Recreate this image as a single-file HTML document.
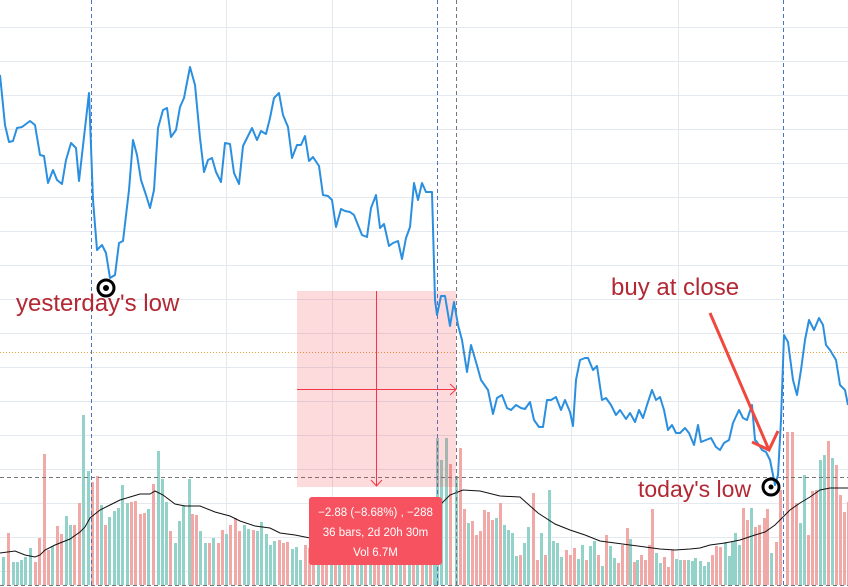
<!DOCTYPE html>
<html><head><meta charset="utf-8"><style>
html,body{margin:0;padding:0;background:#fff;}
svg{display:block;}
text{font-family:"Liberation Sans","DejaVu Sans",sans-serif;}
.t{fill:#93d2c9}.r{fill:#f0a9a6}
</style></head><body>
<svg width="848" height="587" viewBox="0 0 848 587" xmlns="http://www.w3.org/2000/svg">
<g stroke="#e3e9ef" stroke-width="1">
<line x1="0" y1="27.5" x2="848" y2="27.5"/><line x1="0" y1="61.5" x2="848" y2="61.5"/><line x1="0" y1="95.5" x2="848" y2="95.5"/><line x1="0" y1="129.5" x2="848" y2="129.5"/><line x1="0" y1="163.5" x2="848" y2="163.5"/><line x1="0" y1="197.5" x2="848" y2="197.5"/><line x1="0" y1="231.5" x2="848" y2="231.5"/><line x1="0" y1="265.5" x2="848" y2="265.5"/><line x1="0" y1="299.5" x2="848" y2="299.5"/><line x1="0" y1="333.5" x2="848" y2="333.5"/><line x1="0" y1="367.5" x2="848" y2="367.5"/><line x1="0" y1="401.5" x2="848" y2="401.5"/><line x1="0" y1="435.5" x2="848" y2="435.5"/><line x1="0" y1="469.5" x2="848" y2="469.5"/><line x1="0" y1="503.5" x2="848" y2="503.5"/><line x1="0" y1="537.5" x2="848" y2="537.5"/><line x1="0" y1="571.5" x2="848" y2="571.5"/>
<line x1="226.5" y1="0" x2="226.5" y2="587"/><line x1="332.5" y1="0" x2="332.5" y2="587"/><line x1="571.5" y1="0" x2="571.5" y2="587"/><line x1="678.5" y1="0" x2="678.5" y2="587"/>
</g>
<g>
<rect class="t" x="2" y="557" width="3" height="28"/>
<rect class="r" x="7" y="533" width="3" height="52"/>
<rect class="t" x="12" y="562" width="3" height="23"/>
<rect class="t" x="16" y="562" width="3" height="23"/>
<rect class="t" x="20" y="560" width="3" height="25"/>
<rect class="t" x="24" y="557" width="3" height="28"/>
<rect class="t" x="29" y="548" width="3" height="37"/>
<rect class="r" x="34" y="562" width="3" height="23"/>
<rect class="r" x="38" y="538" width="3" height="47"/>
<rect class="r" x="43" y="454" width="3" height="131"/>
<rect class="r" x="47" y="550" width="3" height="35"/>
<rect class="t" x="51" y="546" width="3" height="39"/>
<rect class="r" x="56" y="526" width="3" height="59"/>
<rect class="r" x="60" y="534" width="3" height="51"/>
<rect class="t" x="65" y="516" width="3" height="69"/>
<rect class="t" x="69" y="525" width="3" height="60"/>
<rect class="r" x="73" y="525" width="3" height="60"/>
<rect class="r" x="78" y="503" width="3" height="82"/>
<rect class="t" x="82" y="415" width="3" height="170"/>
<rect class="t" x="87" y="471" width="3" height="114"/>
<rect class="r" x="91" y="482" width="3" height="103"/>
<rect class="r" x="96" y="476" width="3" height="109"/>
<rect class="t" x="100" y="505" width="3" height="80"/>
<rect class="r" x="104" y="525" width="3" height="60"/>
<rect class="t" x="108" y="517" width="3" height="68"/>
<rect class="t" x="113" y="511" width="3" height="74"/>
<rect class="t" x="117" y="508" width="3" height="77"/>
<rect class="t" x="121" y="485" width="3" height="100"/>
<rect class="t" x="126" y="503" width="3" height="82"/>
<rect class="r" x="130" y="502" width="3" height="83"/>
<rect class="r" x="134" y="501" width="3" height="84"/>
<rect class="r" x="139" y="514" width="3" height="71"/>
<rect class="r" x="143" y="513" width="3" height="72"/>
<rect class="t" x="147" y="509" width="3" height="76"/>
<rect class="r" x="152" y="484" width="3" height="101"/>
<rect class="t" x="157" y="451" width="3" height="134"/>
<rect class="t" x="161" y="479" width="3" height="106"/>
<rect class="t" x="165" y="502" width="3" height="83"/>
<rect class="r" x="169" y="531" width="3" height="54"/>
<rect class="t" x="174" y="543" width="3" height="42"/>
<rect class="t" x="178" y="521" width="3" height="64"/>
<rect class="t" x="182" y="505" width="3" height="80"/>
<rect class="t" x="188" y="479" width="3" height="106"/>
<rect class="r" x="191" y="514" width="3" height="71"/>
<rect class="r" x="195" y="515" width="3" height="70"/>
<rect class="t" x="199" y="531" width="3" height="54"/>
<rect class="t" x="204" y="543" width="3" height="42"/>
<rect class="r" x="208" y="543" width="3" height="42"/>
<rect class="t" x="212" y="538" width="3" height="47"/>
<rect class="r" x="217" y="543" width="3" height="42"/>
<rect class="r" x="221" y="530" width="3" height="55"/>
<rect class="t" x="225" y="534" width="3" height="51"/>
<rect class="r" x="229" y="525" width="3" height="60"/>
<rect class="r" x="234" y="518" width="3" height="67"/>
<rect class="r" x="238" y="531" width="3" height="54"/>
<rect class="t" x="243" y="525" width="3" height="60"/>
<rect class="t" x="247" y="529" width="3" height="56"/>
<rect class="r" x="252" y="530" width="3" height="55"/>
<rect class="t" x="256" y="531" width="3" height="54"/>
<rect class="t" x="260" y="522" width="3" height="63"/>
<rect class="t" x="265" y="534" width="3" height="51"/>
<rect class="t" x="269" y="545" width="3" height="40"/>
<rect class="t" x="273" y="541" width="3" height="44"/>
<rect class="r" x="278" y="540" width="3" height="45"/>
<rect class="r" x="282" y="543" width="3" height="42"/>
<rect class="r" x="286" y="542" width="3" height="43"/>
<rect class="t" x="291" y="549" width="3" height="36"/>
<rect class="t" x="295" y="547" width="3" height="38"/>
<rect class="t" x="299" y="560" width="3" height="25"/>
<rect class="r" x="304" y="545" width="3" height="40"/>
<rect class="r" x="308" y="548" width="3" height="37"/>
<rect class="r" x="312" y="540" width="3" height="45"/>
<rect class="t" x="317" y="545" width="3" height="40"/>
<rect class="r" x="321" y="540" width="3" height="45"/>
<rect class="r" x="325" y="542" width="3" height="43"/>
<rect class="t" x="330" y="548" width="3" height="37"/>
<rect class="r" x="334" y="545" width="3" height="40"/>
<rect class="t" x="338" y="540" width="3" height="45"/>
<rect class="r" x="343" y="547" width="3" height="38"/>
<rect class="r" x="347" y="543" width="3" height="42"/>
<rect class="t" x="351" y="548" width="3" height="37"/>
<rect class="r" x="356" y="544" width="3" height="41"/>
<rect class="t" x="360" y="546" width="3" height="39"/>
<rect class="r" x="364" y="540" width="3" height="45"/>
<rect class="t" x="369" y="545" width="3" height="40"/>
<rect class="r" x="373" y="543" width="3" height="42"/>
<rect class="r" x="377" y="548" width="3" height="37"/>
<rect class="t" x="382" y="542" width="3" height="43"/>
<rect class="r" x="386" y="546" width="3" height="39"/>
<rect class="t" x="390" y="544" width="3" height="41"/>
<rect class="r" x="395" y="540" width="3" height="45"/>
<rect class="t" x="399" y="545" width="3" height="40"/>
<rect class="r" x="403" y="542" width="3" height="43"/>
<rect class="t" x="408" y="536" width="3" height="49"/>
<rect class="r" x="412" y="530" width="3" height="55"/>
<rect class="t" x="416" y="525" width="3" height="60"/>
<rect class="r" x="421" y="520" width="3" height="65"/>
<rect class="t" x="425" y="512" width="3" height="73"/>
<rect class="r" x="429" y="515" width="3" height="70"/>
<rect class="t" x="433" y="505" width="3" height="80"/>
<rect class="t" x="436" y="438" width="3" height="147"/>
<rect class="t" x="440" y="460" width="3" height="125"/>
<rect class="t" x="445" y="438" width="3" height="147"/>
<rect class="r" x="449" y="464" width="3" height="121"/>
<rect class="t" x="455" y="476" width="3" height="109"/>
<rect class="r" x="459" y="448" width="3" height="137"/>
<rect class="r" x="463" y="509" width="3" height="76"/>
<rect class="t" x="467" y="523" width="3" height="62"/>
<rect class="r" x="471" y="521" width="3" height="64"/>
<rect class="r" x="475" y="535" width="3" height="50"/>
<rect class="r" x="479" y="531" width="3" height="54"/>
<rect class="r" x="483" y="510" width="3" height="75"/>
<rect class="r" x="487" y="512" width="3" height="73"/>
<rect class="r" x="491" y="520" width="3" height="65"/>
<rect class="t" x="495" y="518" width="3" height="67"/>
<rect class="r" x="499" y="503" width="3" height="82"/>
<rect class="t" x="503" y="525" width="3" height="60"/>
<rect class="t" x="507" y="530" width="3" height="55"/>
<rect class="t" x="511" y="533" width="3" height="52"/>
<rect class="t" x="515" y="556" width="3" height="29"/>
<rect class="r" x="519" y="555" width="3" height="30"/>
<rect class="t" x="523" y="543" width="3" height="42"/>
<rect class="t" x="527" y="527" width="3" height="58"/>
<rect class="r" x="532" y="493" width="3" height="92"/>
<rect class="r" x="536" y="560" width="3" height="25"/>
<rect class="t" x="540" y="533" width="3" height="52"/>
<rect class="r" x="544" y="555" width="3" height="30"/>
<rect class="t" x="548" y="490" width="3" height="95"/>
<rect class="t" x="552" y="541" width="3" height="44"/>
<rect class="t" x="556" y="543" width="3" height="42"/>
<rect class="t" x="560" y="557" width="3" height="28"/>
<rect class="r" x="565" y="550" width="3" height="35"/>
<rect class="r" x="569" y="555" width="3" height="30"/>
<rect class="r" x="573" y="548" width="3" height="37"/>
<rect class="t" x="577" y="559" width="3" height="26"/>
<rect class="t" x="581" y="545" width="3" height="40"/>
<rect class="r" x="585" y="560" width="3" height="25"/>
<rect class="t" x="589" y="546" width="3" height="39"/>
<rect class="t" x="593" y="541" width="3" height="44"/>
<rect class="r" x="597" y="555" width="3" height="30"/>
<rect class="t" x="601" y="566" width="3" height="19"/>
<rect class="r" x="605" y="535" width="3" height="50"/>
<rect class="t" x="609" y="546" width="3" height="39"/>
<rect class="t" x="613" y="558" width="3" height="27"/>
<rect class="r" x="617" y="563" width="3" height="22"/>
<rect class="r" x="621" y="545" width="3" height="40"/>
<rect class="r" x="626" y="528" width="3" height="57"/>
<rect class="t" x="629" y="539" width="3" height="46"/>
<rect class="r" x="633" y="562" width="3" height="23"/>
<rect class="t" x="636" y="560" width="3" height="25"/>
<rect class="r" x="640" y="555" width="3" height="30"/>
<rect class="r" x="644" y="560" width="3" height="25"/>
<rect class="r" x="648" y="545" width="3" height="40"/>
<rect class="r" x="651" y="509" width="3" height="76"/>
<rect class="t" x="655" y="553" width="3" height="32"/>
<rect class="t" x="659" y="563" width="3" height="22"/>
<rect class="r" x="663" y="557" width="3" height="28"/>
<rect class="r" x="667" y="567" width="3" height="18"/>
<rect class="r" x="671" y="550" width="3" height="35"/>
<rect class="t" x="675" y="559" width="3" height="26"/>
<rect class="t" x="679" y="560" width="3" height="25"/>
<rect class="r" x="683" y="560" width="3" height="25"/>
<rect class="t" x="687" y="560" width="3" height="25"/>
<rect class="t" x="691" y="561" width="3" height="24"/>
<rect class="t" x="694" y="558" width="3" height="27"/>
<rect class="t" x="699" y="561" width="3" height="24"/>
<rect class="t" x="703" y="566" width="3" height="19"/>
<rect class="t" x="707" y="562" width="3" height="23"/>
<rect class="r" x="711" y="555" width="3" height="30"/>
<rect class="r" x="715" y="546" width="3" height="39"/>
<rect class="r" x="719" y="547" width="3" height="38"/>
<rect class="t" x="724" y="542" width="3" height="43"/>
<rect class="t" x="728" y="556" width="3" height="29"/>
<rect class="t" x="731" y="542" width="3" height="43"/>
<rect class="t" x="734" y="533" width="3" height="52"/>
<rect class="t" x="738" y="545" width="3" height="40"/>
<rect class="r" x="742" y="508" width="3" height="77"/>
<rect class="r" x="746" y="520" width="3" height="65"/>
<rect class="t" x="750" y="508" width="3" height="77"/>
<rect class="r" x="754" y="527" width="3" height="58"/>
<rect class="r" x="758" y="525" width="3" height="60"/>
<rect class="r" x="763" y="518" width="3" height="67"/>
<rect class="r" x="766" y="509" width="3" height="76"/>
<rect class="t" x="770" y="553" width="3" height="32"/>
<rect class="r" x="775" y="542" width="3" height="43"/>
<rect class="r" x="779" y="490" width="3" height="95"/>
<rect class="r" x="786" y="432" width="3" height="153"/>
<rect class="r" x="791" y="432" width="3" height="153"/>
<rect class="r" x="795" y="503" width="3" height="82"/>
<rect class="t" x="799" y="523" width="3" height="62"/>
<rect class="t" x="803" y="475" width="3" height="110"/>
<rect class="r" x="807" y="535" width="3" height="50"/>
<rect class="r" x="811" y="491" width="3" height="94"/>
<rect class="r" x="815" y="490" width="3" height="95"/>
<rect class="t" x="819" y="460" width="3" height="125"/>
<rect class="t" x="823" y="455" width="3" height="130"/>
<rect class="r" x="827" y="441" width="3" height="144"/>
<rect class="t" x="831" y="458" width="3" height="127"/>
<rect class="r" x="835" y="465" width="3" height="120"/>
<rect class="r" x="839" y="495" width="3" height="90"/>
<rect class="r" x="843" y="512" width="3" height="73"/>
<rect class="r" x="847" y="502" width="3" height="83"/>
</g>
<polyline fill="none" stroke="#111" stroke-width="1" points="0,553 15,551 25,555 35,557 40,555 45,550 55,545 70,539 80,532 85,527 90,518 100,510 110,505 120,500 130,497 140,494 150,494 155,491 163,495 175,504 185,506 200,506 215,512 230,516 240,521 255,526 270,528 280,533 295,535 310,538 330,537 345,538 360,540 375,541 395,541 410,540 425,520 440,505 450,495 463,490 480,491 500,496 520,497 538,513 555,524 570,530 585,535 600,541 615,543 630,545 645,547 660,549 675,550 690,549 700,548 710,545 725,543 740,540 755,535 765,532 775,525 783,517 790,510 800,503 810,497 820,490 830,488 848,488"/>
<line x1="0" y1="352.5" x2="848" y2="352.5" stroke="#e8a23a" stroke-width="1" stroke-dasharray="1,2"/>
<line x1="0" y1="477.5" x2="848" y2="477.5" stroke="#777" stroke-width="1" stroke-dasharray="4,3"/>
<line x1="0" y1="585.5" x2="848" y2="585.5" stroke="#777" stroke-width="1" stroke-dasharray="4,3"/>
<line x1="91.5" y1="0" x2="91.5" y2="587" stroke="#4d74c4" stroke-width="1" stroke-dasharray="4,3"/>
<line x1="437.5" y1="0" x2="437.5" y2="587" stroke="#4d74c4" stroke-width="1" stroke-dasharray="4,3"/>
<line x1="783.5" y1="0" x2="783.5" y2="587" stroke="#4d74c4" stroke-width="1" stroke-dasharray="4,3"/>
<line x1="456.5" y1="0" x2="456.5" y2="587" stroke="#777" stroke-width="1" stroke-dasharray="4,3"/>
<rect x="297" y="291" width="159" height="196" fill="rgba(242,54,69,0.18)"/>
<line x1="376.5" y1="291" x2="376.5" y2="486" stroke="#f23645" stroke-width="1"/>
<polyline points="371,480 376.5,486 382,480" fill="none" stroke="#f23645" stroke-width="1"/>
<line x1="297" y1="389.5" x2="456" y2="389.5" stroke="#f23645" stroke-width="1"/>
<polyline points="450,384 456,389.5 450,395" fill="none" stroke="#f23645" stroke-width="1"/>
<polyline fill="none" stroke="#2b8fe0" stroke-width="2" stroke-linejoin="round" points="0,75 5,125 9,142 13,141 17,128 22,127 30,121 35,125 40,155 44,156 48,183 53,170 57,180 62,184 66,160 71,143 76,148 79,181 84,137 89,93 93,200 97,250 102,245 106,253 110,278 115,275 119,243 123,241 129,190 133,140 137,155 141,180 146,195 150,208 154,190 158,128 163,110 167,108 171,137 176,130 180,107 184,98 190,67 195,85 200,138 204,172 208,160 212,158 216,172 221,182 225,143 230,144 234,173 239,184 243,146 248,136 252,128 257,140 261,131 266,134 270,118 274,98 279,93 283,115 288,127 292,158 297,145 301,145 305,136 309,161 313,157 319,166 323,195 328,196 332,200 336,227 341,209 345,211 350,212 354,215 358,225 362,235 367,237 371,208 376,195 380,228 384,224 389,246 393,243 398,241 402,259 406,238 410,227 414,183 418,200 422,183 426,192 432,192 435,300 437,315 441,296 445,296 450,326 454,302 458,325 462,340 467,372 471,345 476,362 481,380 488,390 493,414 497,398 502,395 507,408 511,410 516,405 521,408 525,409 530,402 534,420 539,427 543,427 547,400 551,400 556,397 561,410 565,400 570,412 573,426 576,380 580,360 585,358 588,358 593,370 597,366 602,400 606,398 611,405 616,415 620,410 626,419 630,413 635,422 639,410 643,418 647,405 652,390 656,400 660,397 664,410 668,430 672,425 676,433 680,433 685,428 689,433 694,445 698,425 701,442 706,440 711,438 716,447 720,450 724,443 729,440 733,423 739,410 743,418 747,420 752,405 755,440 757,442 762,450 766,452 770,460 775,485 778,475 781,420 784,335 788,342 793,380 797,395 801,370 805,340 809,320 814,330 819,318 823,325 826,345 830,350 836,360 840,385 845,390 848,405"/>
<rect x="309" y="497" width="133" height="68" rx="3" fill="#f7525f"/>
<text x="375.5" y="516" fill="#fff" font-size="11.5" text-anchor="middle">−2.88 (−8.68%) , −288</text>
<text x="375.5" y="536" fill="#fff" font-size="11.5" text-anchor="middle">36 bars, 2d 20h 30m</text>
<text x="375.5" y="556" fill="#fff" font-size="11.5" text-anchor="middle">Vol 6.7M</text>
<text x="16" y="311" fill="#b22833" font-size="24">yesterday's low</text>
<text x="611" y="295" fill="#b22833" font-size="24">buy at close</text>
<text x="638" y="497" fill="#b22833" font-size="23">today's low</text>
<circle cx="106" cy="288" r="8" fill="#fff" stroke="#000" stroke-width="3"/>
<circle cx="106" cy="288" r="3" fill="#000"/>
<circle cx="771" cy="487" r="8" fill="none" stroke="#000" stroke-width="3"/>
<circle cx="771" cy="487" r="2.5" fill="#000"/>
<line x1="710" y1="313" x2="769" y2="450" stroke="#f0483e" stroke-width="3"/>
<polyline points="752,442 769,450 778,431" fill="none" stroke="#f0483e" stroke-width="3"/>
</svg>
</body></html>
